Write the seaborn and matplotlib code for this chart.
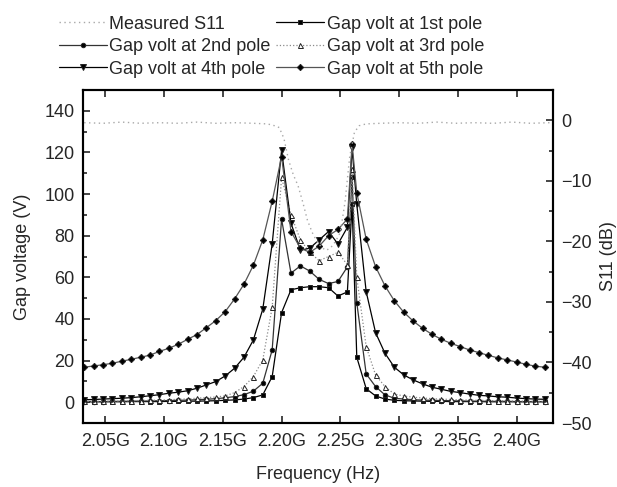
import matplotlib
matplotlib.use("Agg")
import matplotlib.pyplot as plt
from matplotlib.ticker import MultipleLocator, FuncFormatter
import seaborn as sns

# ── data ──
freq = [2.032, 2.040, 2.048, 2.056, 2.064, 2.072, 2.080, 2.088, 2.096, 2.104,
        2.112, 2.120, 2.128, 2.136, 2.144, 2.152, 2.160, 2.168, 2.176, 2.184,
        2.192, 2.200, 2.208, 2.216, 2.224, 2.232, 2.240, 2.248, 2.256, 2.260,
        2.264, 2.272, 2.280, 2.288, 2.296, 2.304, 2.312, 2.320, 2.328, 2.336,
        2.344, 2.352, 2.360, 2.368, 2.376, 2.384, 2.392, 2.400, 2.408, 2.416, 2.424]

pole1 = [0.2, 0.2, 0.2, 0.2, 0.2, 0.3, 0.3, 0.3, 0.3, 0.4,
         0.4, 0.5, 0.5, 0.6, 0.7, 0.9, 1.1, 1.5, 2.2, 3.5,
         12.3, 43.0, 54.0, 55.0, 55.5, 55.5, 55.0, 51.0, 53.0, 95.0,
         21.6, 6.5, 3.0, 1.5, 0.9, 0.7, 0.6, 0.5, 0.4, 0.4,
         0.3, 0.3, 0.3, 0.3, 0.2, 0.2, 0.2, 0.2, 0.2, 0.2, 0.2]

pole2 = [0.3, 0.3, 0.3, 0.4, 0.4, 0.5, 0.5, 0.6, 0.7, 0.8,
         0.9, 1.0, 1.2, 1.4, 1.7, 2.1, 2.7, 3.6, 5.3, 9.1,
         25.1, 88.0, 62.0, 65.5, 63.0, 59.0, 57.0, 58.0, 65.0, 108.0,
         47.8, 13.6, 7.5, 3.5, 1.9, 1.5, 1.2, 1.0, 0.9, 0.8,
         0.7, 0.6, 0.5, 0.5, 0.4, 0.4, 0.4, 0.3, 0.3, 0.3, 0.3]

pole3 = [0.4, 0.4, 0.5, 0.5, 0.6, 0.7, 0.8, 0.9, 1.0, 1.2,
         1.4, 1.6, 1.9, 2.2, 2.5, 3.0, 4.6, 7.5, 12.3, 20.3,
         45.6, 108.0, 90.0, 78.0, 72.0, 68.0, 70.0, 72.0, 66.0, 112.0,
         60.0, 26.7, 13.1, 7.5, 3.9, 3.0, 2.4, 2.0, 1.7, 1.5,
         1.3, 1.1, 1.0, 0.9, 0.8, 0.7, 0.6, 0.6, 0.5, 0.5, 0.4]

pole4 = [1.2, 1.3, 1.5, 1.7, 1.9, 2.2, 2.6, 3.1, 3.6, 4.3,
         4.8, 5.5, 6.7, 8.3, 9.9, 12.6, 16.3, 21.6, 29.9, 44.7,
         76.0, 121.0, 86.0, 73.0, 74.0, 78.0, 82.0, 76.0, 84.0, 122.0,
         95.0, 53.1, 33.4, 23.5, 16.8, 13.1, 10.7, 8.8, 7.2, 6.2,
         5.2, 4.6, 3.9, 3.3, 3.0, 2.6, 2.4, 2.0, 1.7, 1.5, 1.4]

pole5 = [16.8, 17.4, 18.0, 18.7, 19.7, 20.6, 21.6, 22.6, 24.4, 25.9,
         27.8, 30.2, 32.5, 35.8, 39.2, 43.5, 49.6, 56.7, 65.8, 78.0,
         96.5, 118.0, 82.0, 74.0, 72.0, 75.0, 80.0, 83.0, 88.0, 124.0,
         100.7, 78.3, 65.1, 55.9, 48.7, 43.2, 39.0, 35.5, 32.6, 30.2,
         28.3, 26.7, 25.1, 23.8, 22.5, 21.3, 20.3, 19.3, 18.2, 17.3, 16.8]

s11_freq = [2.032, 2.048, 2.064, 2.080, 2.096, 2.112, 2.128, 2.144, 2.160, 2.176,
            2.188, 2.194, 2.198, 2.202, 2.206, 2.210, 2.214, 2.218, 2.222, 2.226,
            2.230, 2.234, 2.238, 2.242, 2.246, 2.250, 2.254, 2.258, 2.262, 2.266,
            2.272, 2.284, 2.300, 2.316, 2.332, 2.348, 2.364, 2.380, 2.396, 2.412, 2.428]
s11_db = [-0.4, -0.5, -0.3, -0.5, -0.4, -0.5, -0.3, -0.5, -0.4, -0.5,
          -0.6, -0.9, -1.2, -3.0, -6.6, -9.0, -10.8, -13.5, -16.5, -18.5,
          -20.0, -21.0, -21.5, -21.0, -20.0, -18.5, -13.5, -6.0, -2.0, -0.9,
          -0.6, -0.5, -0.4, -0.5, -0.3, -0.5, -0.4, -0.5, -0.3, -0.5, -0.4]

# ── style ──
sns.set_style("ticks")
plt.rcParams['font.family'] = ['Liberation Sans', 'DejaVu Sans']
FS = 13

fig = plt.figure(figsize=(6.17, 4.87), dpi=100)
ax = fig.add_axes([0.1345, 0.1314, 0.7618, 0.6838])
ax2 = ax.twinx()

# label, values, marker, line colour, linestyle, marker size, marker face
series = [
    ('Gap volt at 1st pole', pole1, 's', 'black',   '-', 2.8, 'black'),
    ('Gap volt at 2nd pole', pole2, 'o', '#333333', '-', 3.2, 'black'),
    ('Gap volt at 3rd pole', pole3, '^', '#8a8a8a', ':', 3.6, 'white'),
    ('Gap volt at 4th pole', pole4, 'v', 'black',   '-', 4.0, 'black'),
    ('Gap volt at 5th pole', pole5, 'D', '#555555', '-', 3.2, 'black'),
]

handles = {}
for label, vals, mk, col, ls, ms, mfc in series:
    sns.lineplot(x=freq, y=vals, ax=ax, color=col, linestyle=ls, linewidth=0.9,
                 marker=mk, markersize=ms, markerfacecolor=mfc,
                 markeredgecolor='#222222', markeredgewidth=0.7,
                 legend=False, sort=False)
    ax.lines[-1].set_label(label)
    handles[label] = ax.lines[-1]

sns.lineplot(x=s11_freq, y=s11_db, ax=ax2, color='#a8a8a8', linestyle=(0, (1, 2.5)),
             linewidth=1.0, legend=False, sort=False)
ax2.lines[-1].set_label('Measured S11')
handles['Measured S11'] = ax2.lines[-1]

# ── axes ──
ax.set_xlim(2.031, 2.431)
ax.set_ylim(-10, 150)
ax2.set_ylim(-50, 5)
ax.set_xticks([2.05, 2.10, 2.15, 2.20, 2.25, 2.30, 2.35, 2.40])
ax.xaxis.set_major_formatter(FuncFormatter(lambda v, p: f"{v:.2f}G"))
ax.yaxis.set_major_locator(MultipleLocator(20))
ax.yaxis.set_minor_locator(MultipleLocator(10))
ax2.yaxis.set_major_locator(MultipleLocator(10))
ax2.yaxis.set_minor_locator(MultipleLocator(5))

ax.tick_params(which='both', direction='in', top=True, labelsize=FS, width=1.2)
ax.tick_params(axis='x', pad=7)
ax.tick_params(axis='y', pad=6)
ax.tick_params(which='major', length=5)
ax.tick_params(which='minor', length=3)
ax2.tick_params(which='both', direction='in', labelsize=FS, width=1.2, pad=6)
ax2.tick_params(which='major', length=5)
ax2.tick_params(which='minor', length=3)
for a in (ax, ax2):
    for s in a.spines.values():
        s.set_linewidth(1.5)
        s.set_color('black')

ax.set_xlabel('Frequency (Hz)', fontsize=FS, labelpad=12)
ax.set_ylabel('Gap voltage (V)', fontsize=FS, labelpad=10)
ax2.set_ylabel('S11 (dB)', fontsize=FS, labelpad=6)

order = ['Measured S11', 'Gap volt at 2nd pole', 'Gap volt at 4th pole',
         'Gap volt at 1st pole', 'Gap volt at 3rd pole', 'Gap volt at 5th pole']
fig.legend(handles=[handles[k] for k in order], loc='upper center',
           bbox_to_anchor=(0.44, 0.99), ncol=2, frameon=False, fontsize=FS,
           handlelength=2.65, handletextpad=0.15, columnspacing=0.3,
           labelspacing=0.3, borderaxespad=0.2)

fig.savefig('out.png', dpi=100)
